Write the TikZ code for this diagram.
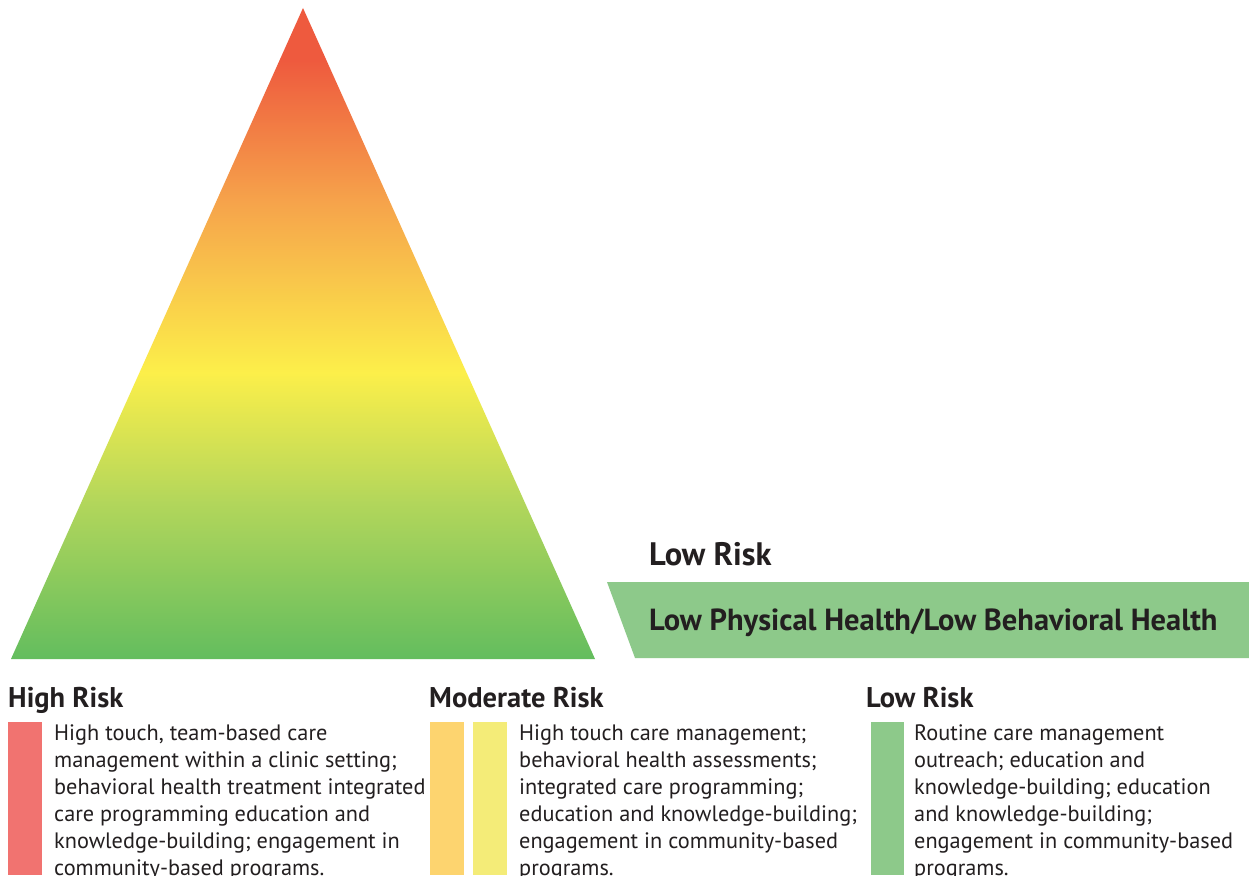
\documentclass[tikz,border=0pt]{standalone}
\usepackage{fontspec}
\setmainfont{PT Sans}
\definecolor{gA}{HTML}{63BD5E}
\definecolor{gB}{HTML}{B2D65B}
\definecolor{yC}{HTML}{FCEF4A}
\definecolor{oD}{HTML}{F6A44B}
\definecolor{rE}{HTML}{EE5A3E}
\definecolor{barred}{HTML}{F17370}
\definecolor{barorange}{HTML}{FDD46F}
\definecolor{baryellow}{HTML}{F4EC78}
\definecolor{bargreen}{HTML}{8DC98A}
\definecolor{txt}{HTML}{231F20}
\pgfdeclareverticalshading{pyramid}{100bp}{color(0bp)=(gA); color(25bp)=(gA); color(37bp)=(gB); color(47bp)=(yC); color(60bp)=(oD); color(71bp)=(rE); color(75bp)=(rE); color(100bp)=(rE)}
\tikzset{
  head/.style={anchor=base west, inner sep=0pt, text=txt, font=\bfseries\fontsize{28.5}{31}\selectfont},
  bighead/.style={anchor=base west, inner sep=0pt, text=txt, font=\bfseries\fontsize{#1}{34}\selectfont},
  body/.style={anchor=north west, inner sep=0pt, text=txt, align=left, font=\fontsize{22.3}{27}\selectfont},
  bar/.style={fill=#1, draw=none}
}
\begin{document}
\begin{tikzpicture}[x=1pt,y=-1pt]
\useasboundingbox (0,0) rectangle (1249,875);
\fill[white] (0,0) rectangle (1249,875);
% pyramid
\shade[shading=pyramid] (303,8) -- (595,659) -- (11,659) -- cycle;
% banner
\fill[bargreen] (607,582) -- (1249,582) -- (1249,658) -- (635,658) -- cycle;
\node[bighead=32.5] (lowtop) at (649,565) {Low Risk};
\node[bighead=30.5] (banner) at (649,630) {Low Physical Health/Low Behavioral Health};
% high risk
\node[head] (hrh) at (8,707) {High Risk};
\fill[barred] (8,722) rectangle (42,875);
\node[body] (hrt) at (54,724) {High touch, team-based care\\management within a clinic setting;\\behavioral health treatment integrated\\care programming education and\\knowledge-building; engagement in\\community-based programs.};
% moderate risk
\node[head] (mrh) at (429,707) {Moderate Risk};
\fill[barorange] (430,722) rectangle (464,875);
\fill[baryellow] (473,722) rectangle (507,875);
\node[body] (mrt) at (519,724) {High touch care management;\\behavioral health assessments;\\integrated care programming;\\education and knowledge-building;\\engagement in community-based\\programs.};
% low risk
\node[head] (lrh) at (866,707) {Low Risk};
\fill[bargreen] (871,722) rectangle (904,875);
\node[body] (lrt) at (914,724) {Routine care management\\outreach; education and\\knowledge-building; education\\and knowledge-building;\\engagement in community-based\\programs.};
\end{tikzpicture}
\end{document}
